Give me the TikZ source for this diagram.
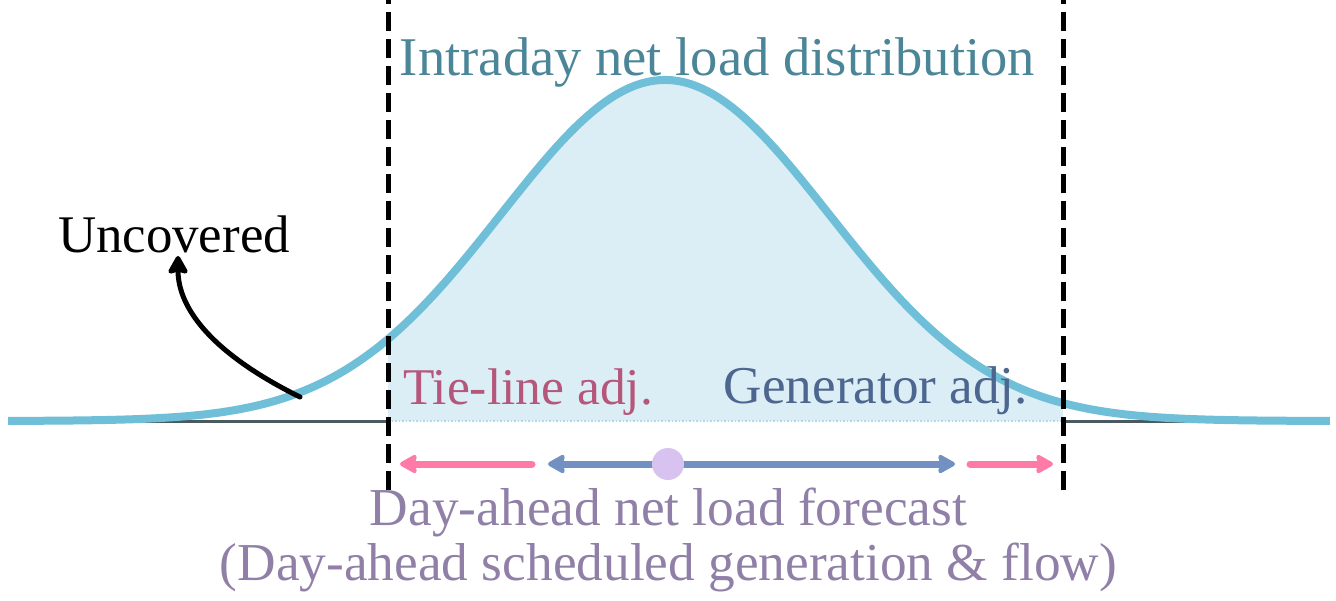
\documentclass[tikz,border=0pt]{standalone}
\usepackage{fontspec}
\setmainfont{Liberation Serif}
\usepackage{graphicx}
\usetikzlibrary{arrows.meta}
\definecolor{curveblue}{HTML}{6FBFD8}
\definecolor{fillblue}{HTML}{DCEEF5}
\definecolor{intracol}{HTML}{4A8598}
\definecolor{tiecol}{HTML}{B5577A}
\definecolor{gencol}{HTML}{4D6690}
\definecolor{pinkarr}{HTML}{FF7AA8}
\definecolor{bluearr}{HTML}{7390C2}
\definecolor{dotcol}{HTML}{D8C2F0}
\definecolor{dacol}{HTML}{9080A8}
\definecolor{basegray}{HTML}{4A5A60}
\definecolor{lightdot}{HTML}{B0D8E8}
\newcommand{\fitto}[2]{\resizebox{#1}{!}{#2}}
\begin{document}
\begin{tikzpicture}[x=1pt,y=-1pt,
  lbl/.style={font=\fontsize{48}{56}\selectfont, inner sep=0pt, anchor=base},
  dashline/.style={black, line width=5pt, dash pattern=on 19pt off 8pt},
  pinkline/.style={pinkarr, line width=7pt, line cap=round, -{Stealth[length=20pt,width=22pt,inset=3pt,round]}},
  blueline/.style={bluearr, line width=7pt, line cap=round, -{Stealth[length=20pt,width=22pt,inset=3pt,round]}},
  blackline/.style={black, line width=5pt, line cap=round, -{Stealth[length=21pt,width=23pt,inset=3pt,round]}}]
\useasboundingbox (0,0) rectangle (1336,600);
% filled area between the dashed limits
\fill[fillblue] plot[domain=-1.689:2.427, samples=120] ({665+164*\x},{421-341*exp(-0.5*\x*\x)}) -- (1063,421) -- (388,421) -- cycle;
% baseline
\draw[basegray, line width=3pt] (8,421) -- (388,421) (1063,421) -- (1330,421);
\draw[lightdot, line width=1.5pt, dotted] (388,421) -- (1063,421);
% distribution curve
\draw[curveblue, line width=8pt] plot[domain=-4.006:4.055, samples=220] ({665+164*\x},{421-341*exp(-0.5*\x*\x)});
% dashed limits (drawn upward so the pattern ends cleanly at the bottom)
\coordinate (dLt) at (388,0); \coordinate (dLb) at (388,490);
\coordinate (dRt) at (1063,0); \coordinate (dRb) at (1063,490);
\draw[dashline] (dLb) -- (dLt);
\draw[dashline] (dRb) -- (dRt);
% labels
\node[lbl, text=intracol] (intra) at (717.5,75) {\fitto{635pt}{Intraday net load distribution}};
\node[lbl, text=black] (unc) at (174,252) {\fitto{232pt}{Uncovered}};
\node[lbl, text=tiecol] (tie) at (528,404) {\fitto{250pt}{Tie-line adj.}};
\node[lbl, text=gencol] (gen) at (876,403) {\fitto{304pt}{Generator adj.}};
\node[lbl, text=dacol] (da1) at (668.5,525) {\fitto{597pt}{Day-ahead net load forecast}};
\node[lbl, text=dacol] (da2) at (668.5,580) {\fitto{897pt}{(Day-ahead scheduled generation \& flow)}};
% uncovered arrow
\coordinate (uncStart) at (300,397);
\coordinate (uncTip) at (178,256);
\draw[blackline] (uncStart) .. controls (215,355) and (178,310) .. (uncTip);
% adjustment arrows
\coordinate (tlS) at (532,464); \coordinate (tlE) at (400,464);
\coordinate (gL) at (548,464); \coordinate (gR) at (955,464);
\coordinate (trS) at (970,464); \coordinate (trE) at (1053,464);
\coordinate (dotc) at (668,464);
\draw[pinkline] (tlS) -- (tlE);
\draw[blueline] (dotc) -- (gL);
\draw[blueline] (dotc) -- (gR);
\draw[pinkline] (trS) -- (trE);
\node[circle, fill=dotcol, minimum size=32pt, inner sep=0pt] (dot) at (dotc) {};
\end{tikzpicture}
\end{document}
